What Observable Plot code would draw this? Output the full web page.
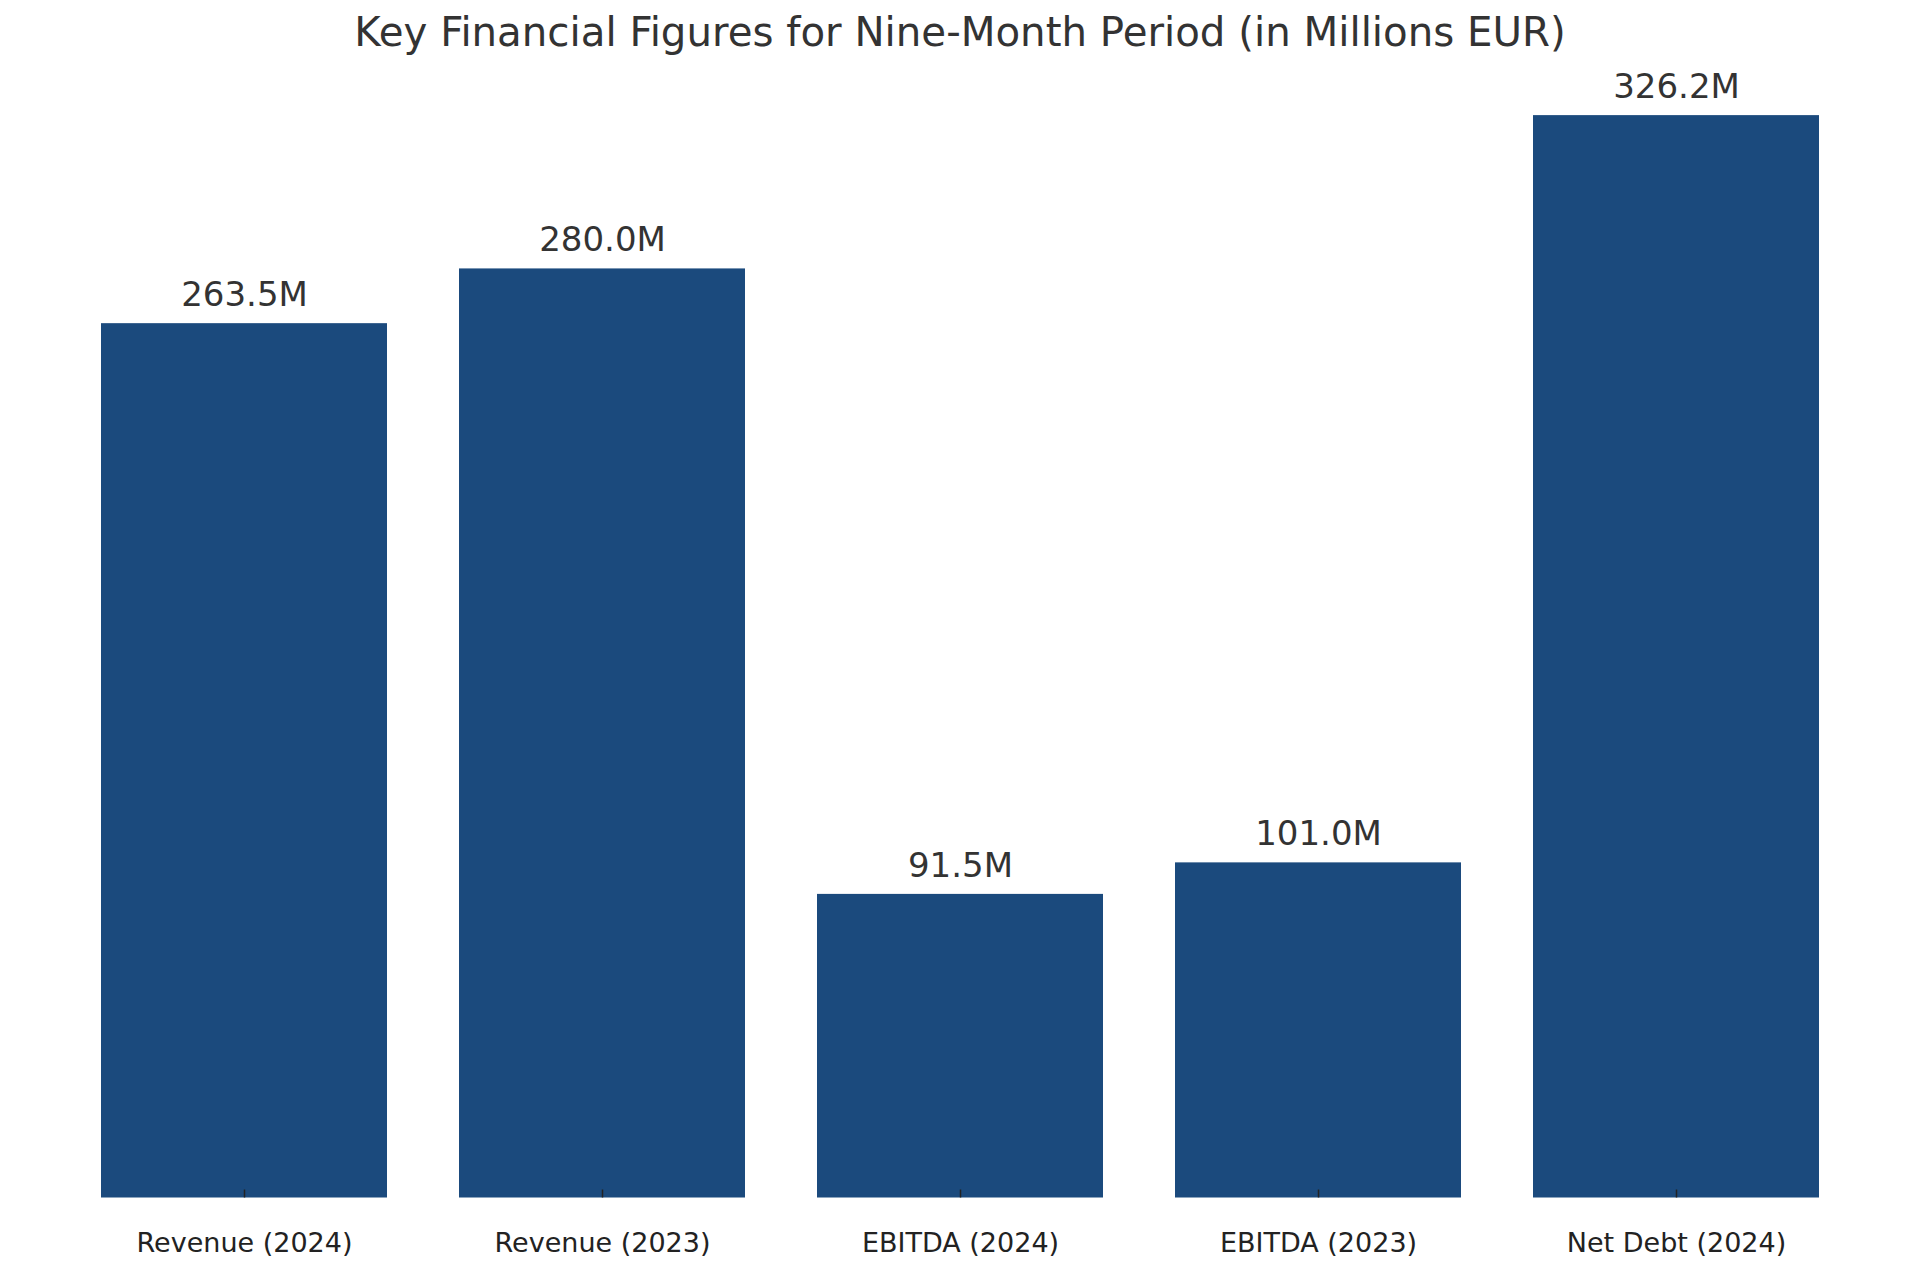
<!DOCTYPE html>
<html>
<head>
<meta charset="utf-8">
<script src="https://cdn.jsdelivr.net/npm/d3@7"></script>
<script src="https://cdn.jsdelivr.net/npm/@observablehq/plot@0.6"></script>
<style>
  html, body { margin: 0; padding: 0; background: #fff; }
  body { width: 1920px; font-family: "DejaVu Sans", sans-serif; }
  #title { height: 61px; box-sizing: border-box; padding-top: 4px; line-height: 57px; font-size: 40.3px; color: #333; text-align: center; white-space: nowrap; }
  svg { display: block; }
</style>
</head>
<body>
<div id="title">Key Financial Figures for Nine-Month Period (in Millions EUR)</div>
<div id="chart"></div>
<script>
const categories = ["Revenue (2024)", "Revenue (2023)", "EBITDA (2024)", "EBITDA (2023)", "Net Debt (2024)"];
const values = [263.5, 280.0, 91.5, 101.0, 326.2];

const data = categories.map((c, i) => ({category: c, value: values[i]}));
const fmt = d => d3.format(".1f")(d) + "M";
const yMax = d3.max(values) * 1.05;

const chart = Plot.plot({
  width: 1920,
  height: 1214,
  marginTop: 0,
  marginBottom: 77.5,
  marginLeft: 29,
  marginRight: 29,
  style: {fontFamily: "DejaVu Sans, sans-serif", background: "#fff"},
  x: {domain: categories, paddingInner: 0.2, paddingOuter: 0.2, label: null},
  y: {domain: [0, yMax], axis: null},
  marks: [
    Plot.barY(data, {x: "category", y: "value", fill: "#1b4a7d"}),
    Plot.axisX({text: null, tickSize: 8, dy: -8, stroke: "#222", strokeWidth: 1.5}),
    Plot.axisX({tickSize: 0, tickPadding: 34.8, fontSize: 27, fill: "#222", label: null}),
    Plot.text(data, {x: "category", y: "value", text: d => fmt(d.value), lineAnchor: "bottom", dy: -17.5, fontSize: 34, fill: "#333"})
  ]
});
document.getElementById("chart").appendChild(chart);
</script>
</body>
</html>
